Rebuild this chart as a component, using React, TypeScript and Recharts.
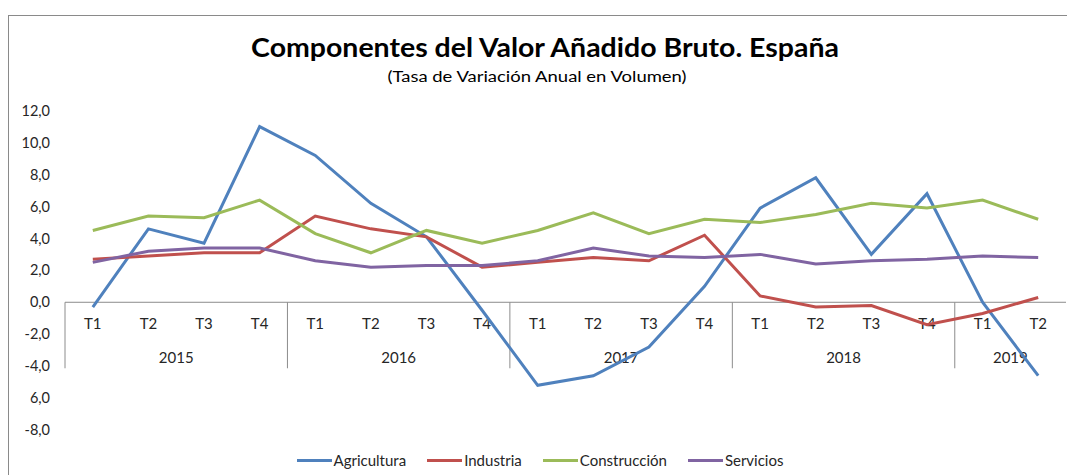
import React from "react";
import { LineChart, Line, XAxis, YAxis, ReferenceLine } from "recharts";

const quarters = ["T1", "T2", "T3", "T4", "T1", "T2", "T3", "T4", "T1", "T2", "T3", "T4", "T1", "T2", "T3", "T4", "T1", "T2"];
const yearLabels = ["2015", "2016", "2017", "2018", "2019"];
const quartersPerYear = [4, 4, 4, 4, 2];

const agricultura = [-0.3, 4.6, 3.7, 11.0, 9.2, 6.2, 4.1, -0.5, -5.2, -4.6, -2.8, 1.0, 5.9, 7.8, 3.0, 6.8, 0.0, -4.6];
const industria = [2.7, 2.9, 3.1, 3.1, 5.4, 4.6, 4.1, 2.2, 2.5, 2.8, 2.6, 4.2, 0.4, -0.3, -0.2, -1.4, -0.7, 0.3];
const construccion = [4.5, 5.4, 5.3, 6.4, 4.3, 3.1, 4.5, 3.7, 4.5, 5.6, 4.3, 5.2, 5.0, 5.5, 6.2, 5.9, 6.4, 5.2];
const servicios = [2.5, 3.2, 3.4, 3.4, 2.6, 2.2, 2.3, 2.3, 2.6, 3.4, 2.9, 2.8, 3.0, 2.4, 2.6, 2.7, 2.9, 2.8];

const yTicks = [-8, -6, -4, -2, 0, 2, 4, 6, 8, 10, 12];

const series = [
  { key: "agricultura", name: "Agricultura", color: "#4F81BD" },
  { key: "industria", name: "Industria", color: "#C0504D" },
  { key: "construccion", name: "Construcción", color: "#9BBB59" },
  { key: "servicios", name: "Servicios", color: "#8064A2" },
];

const yearOfIndex: string[] = [];
yearLabels.forEach((y, i) => {
  for (let k = 0; k < quartersPerYear[i]; k++) yearOfIndex.push(y);
});

const data = quarters.map((q, i) => ({
  key: `${yearOfIndex[i]}-${q}`,
  q,
  agricultura: agricultura[i],
  industria: industria[i],
  construccion: construccion[i],
  servicios: servicios[i],
}));

const FONT = "Lato, 'Open Sans', sans-serif";

const formatY = (v: number) => {
  const s = Math.abs(v).toFixed(1).replace(".", ",");
  // the reference shows "6,0" for -6 (sign missing)
  if (v === -6) return s;
  return v < 0 ? "-" + s : s;
};

const CategoryBox = (props: any) => {
  const vb = props.viewBox || {};
  const x0 = vb.x ?? 0;
  const w = vb.width ?? 0;
  const y0 = vb.y ?? 0;
  const band = w / quarters.length;
  const boxH = 66;
  const els: React.ReactNode[] = [];
  els.push(<line key="l0" x1={x0} x2={x0} y1={y0} y2={y0 + boxH} stroke="#8c8c8c" strokeWidth={1} />);
  quarters.forEach((q, i) => {
    els.push(
      <text key={"q" + i} x={x0 + (i + 0.5) * band} y={y0 + 27} textAnchor="middle" fontSize={15} fill="#262626" fontFamily={FONT}>
        {q}
      </text>
    );
  });
  let start = 0;
  yearLabels.forEach((y, i) => {
    const n = quartersPerYear[i];
    const cx = x0 + (start + n / 2) * band;
    els.push(
      <text key={"y" + i} x={cx} y={y0 + 61} textAnchor="middle" fontSize={15} fill="#262626" fontFamily={FONT}>
        {y}
      </text>
    );
    start += n;
    if (i < yearLabels.length - 1) {
      const sx = x0 + start * band;
      els.push(<line key={"s" + i} x1={sx} x2={sx} y1={y0} y2={y0 + boxH} stroke="#8c8c8c" strokeWidth={1} />);
    }
  });
  return <g>{els}</g>;
};

export default function App() {
  return (
    <div style={{ position: "fixed", left: 0, top: 0, width: 1067, height: 475, overflow: "hidden", background: "#fff" }}>
      <div
        style={{
          position: "absolute",
          left: 8,
          top: 15,
          width: 1200,
          height: 600,
          borderLeft: "1.5px solid #8a8a8a",
          borderTop: "1.5px solid #8a8a8a",
        }}
      />
      <div
        style={{
          position: "absolute",
          left: 545,
          top: 31,
          transform: "translateX(-50%) scaleX(1.095)",
          whiteSpace: "nowrap",
          fontFamily: FONT,
          fontWeight: 700,
          fontSize: 26,
          color: "#000",
          lineHeight: "32px",
        }}
      >
        Componentes del Valor Añadido Bruto. España
      </div>
      <div
        style={{
          position: "absolute",
          left: 537,
          top: 67,
          transform: "translateX(-50%) scaleX(1.19)",
          whiteSpace: "nowrap",
          fontFamily: FONT,
          fontSize: 15.5,
          color: "#000",
          lineHeight: "19px",
        }}
      >
        (Tasa de Variación Anual en Volumen)
      </div>
      <div style={{ position: "absolute", left: 0, top: 0 }}>
        <LineChart width={1067} height={475} data={data} margin={{ top: 110.7, right: 1, bottom: 45, left: 0 }}>
          <XAxis dataKey="key" scale="band" hide />
          <YAxis
            domain={[-8, 12]}
            ticks={yTicks}
            width={65}
            axisLine={false}
            tickLine={false}
            tickSize={0}
            tickMargin={15}
            tickFormatter={formatY}
            tick={{ fontSize: 14.5, fill: "#262626", fontFamily: FONT }}
            interval={0}
          />
          <ReferenceLine y={0} stroke="#8c8c8c" strokeWidth={1} label={<CategoryBox />} />
          {series.map((s) => (
            <Line
              key={s.key}
              type="linear"
              dataKey={s.key}
              name={s.name}
              stroke={s.color}
              strokeWidth={3}
              dot={false}
              isAnimationActive={false}
            />
          ))}
        </LineChart>
      </div>
      <div
        style={{
          position: "absolute",
          left: 0,
          width: 1080,
          top: 451,
          display: "flex",
          justifyContent: "center",
          alignItems: "center",
          fontFamily: FONT,
          fontSize: 15,
          color: "#262626",
          lineHeight: "18px",
        }}
      >
        {series.map((s, i) => (
          <div key={s.key} style={{ display: "flex", alignItems: "center", marginRight: i < series.length - 1 ? 21 : 0 }}>
            <div style={{ width: 35, height: 3, background: s.color, marginRight: 2 }} />
            <span>{s.name}</span>
          </div>
        ))}
      </div>
    </div>
  );
}
